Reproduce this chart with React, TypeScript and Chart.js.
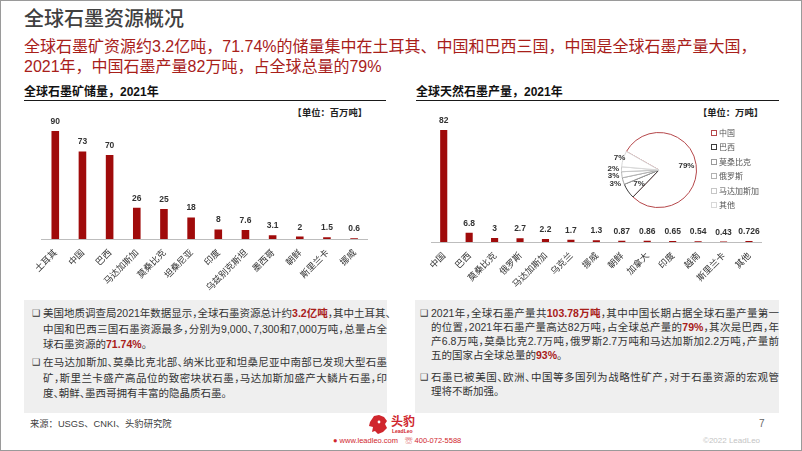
import React, { useEffect, useRef } from 'react';
import { Chart, registerables } from 'chart.js';

Chart.register(...registerables);

// ---------- data ----------
const reserveCountries = ['土耳其', '中国', '巴西', '马达加斯加', '莫桑比克', '坦桑尼亚', '印度', '乌兹别克斯坦', '墨西哥', '朝鲜', '斯里兰卡', '挪威'];
const reserveValues = [90, 73, 70, 26, 25, 18, 8, 7.6, 3.1, 2, 1.5, 0.6];

const productionCountries = ['中国', '巴西', '莫桑比克', '俄罗斯', '马达加斯加', '乌克兰', '挪威', '朝鲜', '加拿大', '印度', '越南', '斯里兰卡', '其他'];
const productionValues = [82, 6.8, 3, 2.7, 2.2, 1.7, 1.3, 0.87, 0.86, 0.65, 0.54, 0.43, 0.726];

const shareLabels = ['中国', '巴西', '莫桑比克', '俄罗斯', '马达加斯加', '其他'];
const shareValues = [82, 6.8, 3, 2.7, 2.2, 7.08];

// ---------- styles ----------
const LATIN = '"Liberation Sans", "Noto Sans CJK SC", sans-serif';
const CJK = '"Noto Sans CJK SC", "Liberation Sans", sans-serif';
const BAR_RED = '#A00B0B';
const TEXT_RED = '#A8201A';
const PIE_BORDERS = ['#B5474A', '#3c3c3c', '#9a9a9a', '#b2b2b2', '#c6c6c6', '#d8d8d8'];
const PIE_LABEL_RADIUS = [0.74, 0.64, 1.22, 1.22, 1.22, 1.1];

const valueLabels = {
  id: 'valueLabels',
  afterDatasetsDraw(chart: any) {
    const ctx = chart.ctx;
    const meta = chart.getDatasetMeta(0);
    const data = chart.data.datasets[0].data;
    ctx.save();
    ctx.font = 'bold 8.5px "Liberation Sans", Arial, sans-serif';
    ctx.fillStyle = '#333333';
    ctx.textAlign = 'center';
    ctx.textBaseline = 'bottom';
    meta.data.forEach((bar: any, i: number) => {
      ctx.fillText(String(data[i]), bar.x, bar.y - 5);
    });
    ctx.restore();
  },
};

const pieLabels = {
  id: 'pieLabels',
  afterDatasetsDraw(chart: any) {
    const ctx = chart.ctx;
    const meta = chart.getDatasetMeta(0);
    const data: number[] = chart.data.datasets[0].data;
    const total = data.reduce((a, b) => a + b, 0);
    ctx.save();
    ctx.font = 'bold 8px "Liberation Sans", Arial, sans-serif';
    ctx.fillStyle = '#333333';
    ctx.textAlign = 'center';
    ctx.textBaseline = 'middle';
    meta.data.forEach((arc: any, i: number) => {
      const p = arc.getProps(['x', 'y', 'startAngle', 'endAngle', 'outerRadius'], true);
      const mid = (p.startAngle + p.endAngle) / 2;
      const r = p.outerRadius * PIE_LABEL_RADIUS[i];
      ctx.fillText(Math.round((data[i] / total) * 100) + '%', p.x + Math.cos(mid) * r, p.y + Math.sin(mid) * r);
    });
    ctx.restore();
  },
};

type BarProps = {
  labels: string[];
  values: number[];
  max: number;
  left: number;
  top: number;
  width: number;
  height: number;
  pad: { left: number; right: number; top: number; bottom: number };
};

const X_AXIS_HEIGHT = 58;

function BarChart({ labels, values, max, left, top, width, height, pad }: BarProps) {
  const ref = useRef<HTMLCanvasElement>(null);
  useEffect(() => {
    const chart = new Chart(ref.current as HTMLCanvasElement, {
      type: 'bar',
      data: {
        labels,
        datasets: [
          {
            data: values,
            backgroundColor: BAR_RED,
            barPercentage: 0.28,
            categoryPercentage: 1,
          },
        ],
      },
      options: {
        animation: false,
        responsive: false,
        maintainAspectRatio: false,
        layout: { padding: pad },
        plugins: { legend: { display: false }, tooltip: { enabled: false } },
        scales: {
          x: {
            grid: { display: false, drawTicks: false },
            border: { display: true, color: '#bdbdbd', width: 1 },
            ticks: {
              color: '#333333',
              font: { size: 9, family: CJK },
              maxRotation: 45,
              minRotation: 45,
              autoSkip: false,
              padding: 8,
            },
            afterFit: (s: any) => {
              s.height = X_AXIS_HEIGHT;
              s.paddingLeft = 0;
              s.paddingRight = 0;
            },
          },
          y: { display: false, min: 0, max },
        },
      } as any,
      plugins: [valueLabels],
    });
    return () => chart.destroy();
  }, []);
  return (
    <canvas
      ref={ref}
      width={width}
      height={height}
      style={{ position: 'absolute', left, top, width, height }}
    />
  );
}

function PieChart() {
  const ref = useRef<HTMLCanvasElement>(null);
  useEffect(() => {
    const chart = new Chart(ref.current as HTMLCanvasElement, {
      type: 'pie',
      data: {
        labels: shareLabels,
        datasets: [
          {
            data: shareValues,
            backgroundColor: '#ffffff',
            borderColor: PIE_BORDERS,
            borderWidth: 1,
          },
        ],
      },
      options: {
        animation: false,
        responsive: false,
        maintainAspectRatio: false,
        rotation: -60.45,
        layout: { padding: { top: 8, bottom: 8, left: 0, right: 0 } },
        plugins: { legend: { display: false }, tooltip: { enabled: false } },
      } as any,
      plugins: [pieLabels],
    });
    return () => chart.destroy();
  }, []);
  return (
    <canvas
      ref={ref}
      width={122}
      height={92}
      style={{ position: 'absolute', left: 598, top: 124, width: 122, height: 92 }}
    />
  );
}

type Seg = string | { r: string };

const leftParas: Seg[][][] = [
  [
    ['美国地质调查局2021年数据显示，全球石墨资源总计约', { r: '3.2亿吨' }, '，其中土耳其、'],
    ['中国和巴西三国石墨资源最多，分别为9,000、7,300和7,000万吨，总量占全'],
    ['球石墨资源的', { r: '71.74%' }, '。'],
  ],
  [
    ['在马达加斯加、莫桑比克北部、纳米比亚和坦桑尼亚中南部已发现大型石墨'],
    ['矿，斯里兰卡盛产高品位的致密块状石墨，马达加斯加盛产大鳞片石墨，印'],
    ['度、朝鲜、墨西哥拥有丰富的隐晶质石墨。'],
  ],
];

const rightParas: Seg[][][] = [
  [
    ['2021年，全球石墨产量共', { r: '103.78万吨' }, '，其中中国长期占据全球石墨产量第一'],
    ['的位置，2021年石墨产量高达82万吨，占全球总产量的', { r: '79%' }, '，其次是巴西，年'],
    ['产6.8万吨，莫桑比克2.7万吨，俄罗斯2.7万吨和马达加斯加2.2万吨，产量前'],
    ['五的国家占全球总量的', { r: '93%' }, '。'],
  ],
  [
    ['石墨已被美国、欧洲、中国等多国列为战略性矿产，对于石墨资源的宏观管'],
    ['理将不断加强。'],
  ],
];

function TextBox({
  paras,
  boxLeft,
  boxWidth,
  textLeft,
  bulletLeft,
  lineTops,
}: {
  paras: Seg[][][];
  boxLeft: number;
  boxWidth: number;
  textLeft: number;
  bulletLeft: number;
  lineTops: number[][];
}) {
  const lh = 14;
  const textWidth = boxLeft + boxWidth - textLeft;
  const out: React.ReactNode[] = [];
  paras.forEach((para, pi) => {
    out.push(
      <div
        key={'b' + pi}
        style={{
          position: 'absolute',
          left: bulletLeft,
          top: lineTops[pi][0],
          lineHeight: lh + 'px',
          fontSize: 9,
          fontFamily: '"DejaVu Sans", sans-serif',
          color: '#333',
        }}
      >
        ❑
      </div>
    );
    para.forEach((line, li) => {
      const last = li === para.length - 1;
      out.push(
        <div
          key={pi + '-' + li}
          style={{
            position: 'absolute',
            left: textLeft,
            top: lineTops[pi][li],
            width: textWidth,
            lineHeight: lh + 'px',
            fontSize: 10.5,
            fontFamily: LATIN,
            color: '#333',
            whiteSpace: 'nowrap',
            textAlign: 'left',
            textAlignLast: last ? 'left' : 'justify',
            fontFeatureSettings: '"halt"',
          }}
        >
          {line.map((s, k) =>
            typeof s === 'string' ? (
              <span key={k}>{s}</span>
            ) : (
              <span key={k} style={{ color: TEXT_RED, fontWeight: 'bold' }}>
                {s.r}
              </span>
            )
          )}
        </div>
      );
    });
  });
  return (
    <>
      <div
        style={{
          position: 'absolute',
          left: boxLeft,
          top: 300,
          width: boxWidth,
          height: 113,
          background: '#EFEFEF',
        }}
      />
      {out}
    </>
  );
}

function Legend() {
  const ys = [132.7, 147.3, 161.7, 176, 190.7, 205.3];
  return (
    <>
      {shareLabels.map((l, i) => (
        <div key={l}>
          <div
            style={{
              position: 'absolute',
              left: 711,
              top: ys[i] - 3,
              width: 4,
              height: 4,
              border: '1px solid ' + PIE_BORDERS[i],
              background: '#fff',
            }}
          />
          <div
            style={{
              position: 'absolute',
              left: 719,
              top: ys[i] - 6,
              lineHeight: '12px',
              fontSize: 8,
              fontFamily: CJK,
              color: '#555',
              whiteSpace: 'nowrap',
            }}
          >
            {l}
          </div>
        </div>
      ))}
    </>
  );
}

function abs(left: number, top: number, extra: React.CSSProperties = {}): React.CSSProperties {
  return { position: 'absolute', left, top, whiteSpace: 'nowrap', ...extra };
}

export default function App() {
  useEffect(() => {
    document.body.style.margin = '0';
  }, []);
  return (
    <div
      style={{
        position: 'absolute',
        left: 0,
        top: 0,
        width: 802,
        height: 451,
        boxSizing: 'border-box',
        border: '1px solid #9a9a9a',
        background: '#fff',
        overflow: 'hidden',
        fontFamily: LATIN,
      }}
    >
      <div style={{ position: 'absolute', left: -1, top: -1, width: 802, height: 451 }}>
        {/* title */}
        <div style={abs(24, 6, { fontSize: 20, lineHeight: '24px', color: '#404040', fontFamily: CJK, fontWeight: 500 })}>
          全球石墨资源概况
        </div>
        <div style={abs(24, 37, { fontSize: 16, lineHeight: '20px', color: TEXT_RED, fontFamily: LATIN })}>
          全球石墨矿资源约3.2亿吨，71.74%的储量集中在土耳其、中国和巴西三国，中国是全球石墨产量大国，
        </div>
        <div style={abs(24, 57, { fontSize: 16, lineHeight: '20px', color: TEXT_RED, fontFamily: LATIN })}>
          2021年，中国石墨产量82万吨，占全球总量的79%
        </div>

        {/* section headings */}
        <div style={abs(24, 84, { fontSize: 12, lineHeight: '16px', fontWeight: 'bold', color: '#111', fontFamily: LATIN })}>
          全球石墨矿储量，2021年
        </div>
        <div style={abs(24, 100, { width: 362, height: 1, background: '#1a1a1a' })} />
        <div style={abs(416, 84, { fontSize: 12, lineHeight: '16px', fontWeight: 'bold', color: '#111', fontFamily: LATIN })}>
          全球天然石墨产量，2021年
        </div>
        <div style={abs(416, 100, { width: 363, height: 1, background: '#1a1a1a' })} />

        <div style={abs(0, 105, { width: 367, textAlign: 'right', fontSize: 9.3, lineHeight: '14px', fontWeight: 'bold', color: '#222', fontFamily: CJK })}>
          【单位：百万吨】
        </div>
        <div style={abs(0, 105, { width: 763, textAlign: 'right', fontSize: 9.3, lineHeight: '14px', fontWeight: 'bold', color: '#222', fontFamily: CJK })}>
          【单位：万吨】
        </div>

        <BarChart
          labels={reserveCountries}
          values={reserveValues}
          max={100}
          left={24}
          top={102}
          width={362}
          height={17 + 120 + X_AXIS_HEIGHT}
          pad={{ left: 17.7, right: 18.3, top: 17, bottom: 0 }}
        />
        <BarChart
          labels={productionCountries}
          values={productionValues}
          max={90}
          left={416}
          top={102}
          width={363}
          height={17 + 123 + X_AXIS_HEIGHT}
          pad={{ left: 15, right: 17.3, top: 17, bottom: 0 }}
        />
        <PieChart />
        <Legend />

        <TextBox
          paras={leftParas}
          boxLeft={24}
          boxWidth={363}
          textLeft={43}
          bulletLeft={32}
          lineTops={[
            [306, 321.5, 337],
            [355, 370.5, 386],
          ]}
        />
        <TextBox
          paras={rightParas}
          boxLeft={415}
          boxWidth={364}
          textLeft={431}
          bulletLeft={420}
          lineTops={[
            [306, 320, 334, 347.5],
            [369.5, 384],
          ]}
        />

        {/* footer */}
        <div style={abs(30, 417, { fontSize: 9.3, lineHeight: '14px', color: '#404040', fontFamily: LATIN })}>
          来源：USGS、CNKI、头豹研究院
        </div>
        <svg style={{ position: 'absolute', left: 367, top: 413 }} width={22} height={22} viewBox="0 0 22 22">
          <path
            d="M3 9 L7 3 L12 2 L17 4 L20 8 L18 11 L20 15 L16 19 L11 21 L8 18 L5 19 L6 14 L2 13 Z"
            fill="#D0262D"
          />
          <circle cx="12" cy="9" r="1.4" fill="#fff" />
        </svg>
        <div style={abs(391, 413, { fontSize: 12, lineHeight: '15px', fontWeight: 'bold', color: '#D0262D', fontFamily: CJK })}>
          头豹
        </div>
        <div style={abs(392, 428, { fontSize: 5, lineHeight: '6px', fontWeight: 'bold', color: '#D0262D', fontFamily: LATIN })}>
          LeadLeo
        </div>
        <div style={abs(333, 435, { fontSize: 7.5, lineHeight: '11px', color: '#D0262D', fontFamily: LATIN })}>
          ● www.leadleo.com
        </div>
        <div style={abs(405, 435, { fontSize: 7.5, lineHeight: '11px', color: '#D0262D', fontFamily: LATIN })}>
          ☏ 400-072-5588
        </div>
        <div style={abs(759, 417, { fontSize: 10, lineHeight: '14px', color: '#666', fontFamily: LATIN })}>
          7
        </div>
        <div style={abs(703, 435, { fontSize: 8, lineHeight: '11px', color: '#c4c4c4', fontFamily: LATIN })}>
          ©2022 LeadLeo
        </div>
      </div>
    </div>
  );
}
